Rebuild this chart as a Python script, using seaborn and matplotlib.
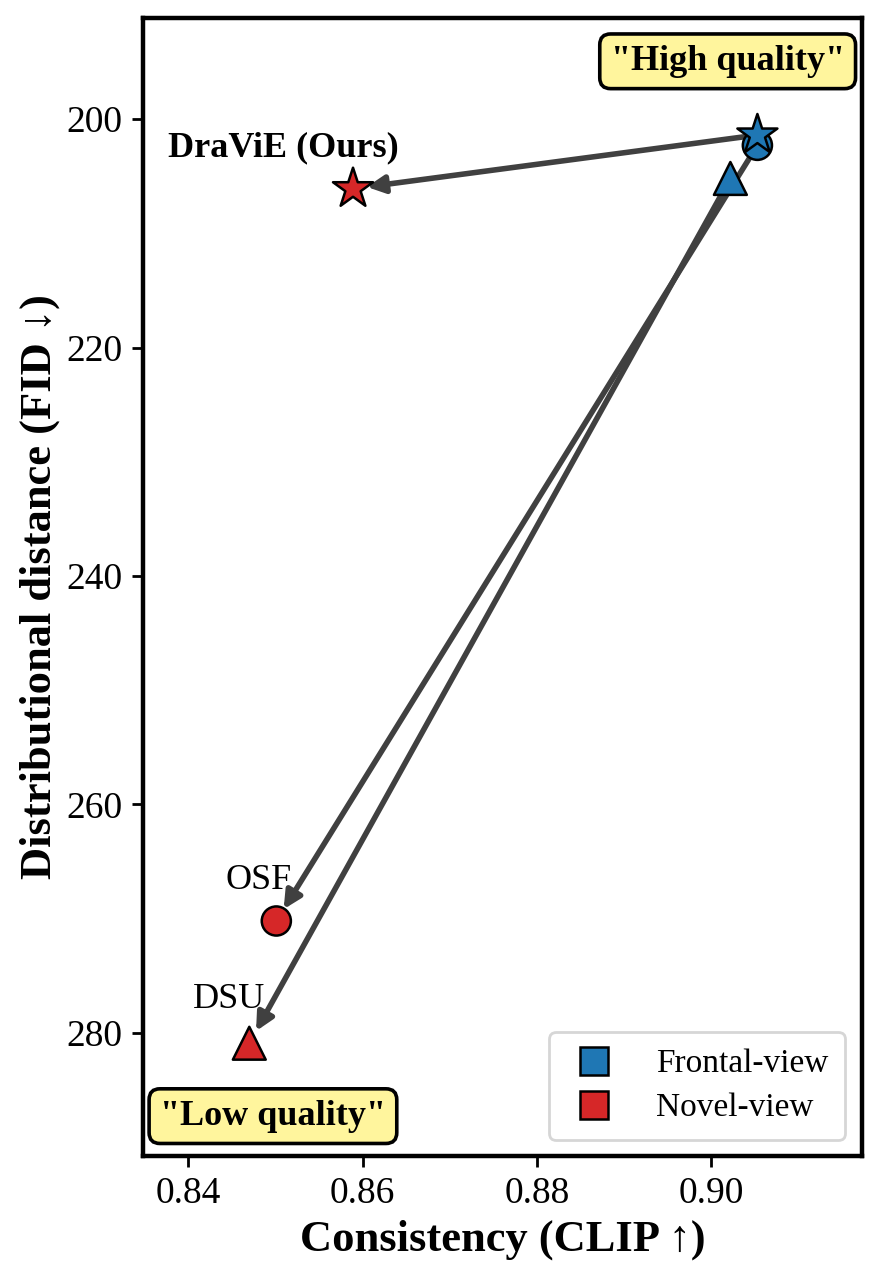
import matplotlib
matplotlib.use("Agg")
import matplotlib.pyplot as plt
import seaborn as sns
import pandas as pd
from matplotlib.lines import Line2D

methods = ["DraViE", "OSF", "DSU"]
clip_frontal = [0.9053, 0.9053, 0.9022]
fid_frontal = [201.4, 202.3, 205.2]
clip_novel = [0.8589, 0.8501, 0.8470]
fid_novel = [206.1, 270.2, 280.9]
view_names = ["Frontal-view", "Novel-view"]
labels = ["DraViE (Ours)", "OSF", "DSU"]

df = pd.DataFrame({
    "method": methods * 2,
    "clip": clip_frontal + clip_novel,
    "fid": fid_frontal + fid_novel,
    "view": [view_names[0]] * 3 + [view_names[1]] * 3,
})

sns.set_theme(style="ticks")
plt.rcParams["font.family"] = ["Liberation Serif", "DejaVu Serif"]
plt.rcParams["text.color"] = "black"
plt.rcParams["axes.labelcolor"] = "black"
plt.rcParams["xtick.color"] = "black"
plt.rcParams["ytick.color"] = "black"

fig = plt.figure(figsize=(4.41, 6.405), dpi=200)
ax = fig.add_axes([0.1621, 0.0976, 0.8152, 0.8883])

palette = {view_names[0]: "#1f77b4", view_names[1]: "#d62728"}
markers = {"DraViE": "*", "OSF": "o", "DSU": "^"}
sizes = {"DraViE": 230, "OSF": 110, "DSU": 140}
zorders = {"DraViE": 5, "OSF": 4, "DSU": 3}

for i in range(3):
    ax.annotate("", xy=(clip_novel[i], fid_novel[i]), xytext=(clip_frontal[i], fid_frontal[i]),
                arrowprops=dict(arrowstyle="-|>", color="#404040", lw=2.0,
                                mutation_scale=13, shrinkA=0, shrinkB=5),
                zorder=2)

for m in methods:
    sub = df[df["method"] == m]
    sns.scatterplot(data=sub, x="clip", y="fid", hue="view", palette=palette,
                    marker=markers[m], s=sizes[m], edgecolor="black", linewidth=0.9,
                    ax=ax, legend=False, zorder=zorders[m])

ax.set_xlim(0.8348, 0.9173)
ax.set_ylim(290.77, 191.16)
ax.set_xticks([0.84, 0.86, 0.88, 0.90])
ax.set_xticklabels(["0.84", "0.86", "0.88", "0.90"])
ax.set_yticks([200, 220, 240, 260, 280])
ax.tick_params(labelsize=13.5, width=1.0, length=4)
for sp in ax.spines.values():
    sp.set_linewidth(1.6)
    sp.set_color("black")

ax.set_xlabel("Consistency (CLIP ↑)", fontsize=16, fontweight="bold", labelpad=3)
ax.set_ylabel("Distributional distance (FID ↓)", fontsize=16, fontweight="bold", labelpad=2)

ax.text(0.8509, 202.5, labels[0], fontsize=13, fontweight="bold", ha="center", va="center")
ax.text(0.8481, 266.65, labels[1], fontsize=13, ha="center", va="center")
ax.text(0.8447, 277.1, labels[2], fontsize=13, ha="center", va="center")

box = dict(boxstyle="round,pad=0.3", facecolor="#fff59d", edgecolor="black", linewidth=1.3)
ax.text(0.976, 0.962, '"High quality"', transform=ax.transAxes, ha="right", va="center",
        fontsize=13, fontweight="bold", bbox=box)
ax.text(0.0236, 0.035, '"Low quality"', transform=ax.transAxes, ha="left", va="center",
        fontsize=13, fontweight="bold", bbox=box)

handles = [Line2D([0], [0], marker="s", linestyle="", markersize=10,
                  markerfacecolor=palette[v], markeredgecolor="black", markeredgewidth=0.9)
           for v in view_names]
leg = ax.legend(handles, view_names, loc="lower right", fontsize=12, frameon=True,
                handletextpad=1.0, borderpad=0.5, labelspacing=0.4, handlelength=1.7,
                bbox_to_anchor=(0.9763, 0.0141), borderaxespad=0, fancybox=True)
leg.get_frame().set_edgecolor("#cccccc")
leg.get_frame().set_linewidth(1.0)

fig.savefig("out.png", dpi=200)
